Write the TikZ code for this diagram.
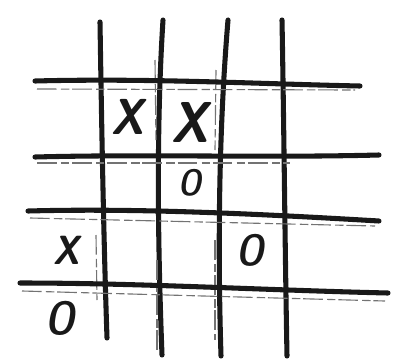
\documentclass[tikz,border=0pt]{standalone}
\usepackage{tikz}

\begin{document}
\begin{tikzpicture}[x=0.025cm, y=-0.025cm,
  pen/.style={line width=3.6pt, line cap=round, black!90},
  faint/.style={line width=0.8pt, dash pattern=on 14pt off 3pt on 6pt off 2pt, black!55},
  penmark/.style={inner sep=0pt, black!90}]
\useasboundingbox (0,0) rectangle (400,362);
% vertical strokes
\draw[pen] (100,22) .. controls (102,150) and (104,250) .. (107,338);
\draw[pen] (163,20) .. controls (156,130) and (158,250) .. (162,355);
\draw[pen] (228,20) .. controls (218,140) and (218,260) .. (221,356);
\draw[pen] (282,20) .. controls (284,130) and (285,250) .. (287,356);
\draw[faint] (96,235) -- (97,300);
\draw[faint] (155,60) -- (156,140);
\draw[faint] (157,260) -- (157,350);
\draw[faint] (216,70) -- (215,150);
\draw[faint] (215,240) -- (215,340);
% horizontal strokes
\draw[pen] (35,81) .. controls (150,78) and (260,84) .. (360,86);
\draw[faint] (37,89) -- (355,90);
\draw[pen] (35,157) .. controls (150,154) and (260,158) .. (379,155);
\draw[faint] (37,163) -- (290,163);
\draw[pen] (28,211) .. controls (140,208) and (260,214) .. (379,221);
\draw[faint] (30,218) -- (375,226);
\draw[pen] (20,283) .. controls (140,283) and (260,290) .. (388,293);
\draw[faint] (22,291) -- (385,301);
% the marks
\node[penmark, font=\fontsize{36}{36}\sffamily\bfseries\itshape] (xa) at (128,117) {\scalebox{0.88}[1]{X}};
\node[penmark, font=\fontsize{41}{41}\sffamily\bfseries\itshape] (xb) at (190,122) {\scalebox{0.88}[1]{X}};
\node[penmark, font=\fontsize{26}{26}\sffamily\bfseries\itshape] (oa) at (190,183) {\scalebox{0.8}[1]{O}};
\node[penmark, font=\fontsize{29}{29}\sffamily\bfseries\itshape] (xc) at (67,250) {\scalebox{0.88}[1]{X}};
\node[penmark, font=\fontsize{31}{31}\sffamily\bfseries\itshape] (ob) at (250,250) {\scalebox{0.8}[1]{O}};
\node[penmark, font=\fontsize{33}{33}\sffamily\bfseries\itshape] (oc) at (60,318) {\scalebox{0.8}[1]{O}};
\end{tikzpicture}
\end{document}
